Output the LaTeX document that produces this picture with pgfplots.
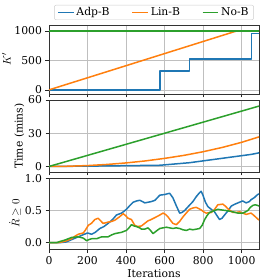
\documentclass[border=0pt]{standalone}
\usepackage{fontspec}
\setmainfont{DejaVu Serif}
\usepackage{pgfplots}
\pgfplotsset{compat=1.18}
\definecolor{tabblue}{HTML}{1F77B4}
\definecolor{taborange}{HTML}{FF7F0E}
\definecolor{tabgreen}{HTML}{2CA02C}
\pgfplotsset{
  panel/.style={
    scale only axis, width=210pt,
    xmin=0, xmax=1090,
    xtick={0,200,400,600,800,1000},
    xtick pos=left, ytick pos=left,
    tick align=outside,
    major tick length=3.5pt,
    every tick/.style={black!85, line width=0.7pt},
    axis line style={black!80, line width=0.9pt},
    grid=major,
    major grid style={black!25, line width=0.7pt},
    font=\fontsize{10.8}{13}\selectfont,
    /pgf/number format/assume math mode=true,
    /pgf/number format/1000 sep={},
    ylabel style={font=\fontsize{10.8}{13}\selectfont},
    ylabel shift=-3pt,
    every axis plot/.append style={line width=1.5pt, mark=none, line join=round},
  }
}
\begin{document}
\begin{tikzpicture}
\useasboundingbox (-49pt,0pt) rectangle (231pt,-280pt);
% Panel 1
\begin{axis}[panel, at={(0pt,-25pt)}, anchor=north west, height=69pt,
  ymin=-70, ymax=1100, ytick={0,500,1000}, xticklabels={},
  ylabel={$K'$},
  legend style={at={(0.5,1)}, anchor=south, yshift=5pt, legend columns=3,
    draw=black!20, rounded corners=2pt, font=\fontsize{10.8}{13}\selectfont,
    inner xsep=3pt, inner ysep=0.5pt,
    /tikz/every even column/.append style={column sep=20pt}},
  legend cell align=left,
  legend image post style={line width=1.5pt},
  legend image code/.code={\draw[#1] (0cm,0cm) -- (0.55cm,0cm);}]
\addplot[tabblue] coordinates {(0,0)(577,0)(577,320)(730,320)(730,520)(1050,520)(1050,960)(1090,960)};
\addlegendentry{Adp-B}
\addplot[taborange] coordinates {(0,0)(975,1000)(1090,1000)};
\addlegendentry{Lin-B}
\addplot[tabgreen] coordinates {(0,1000)(1090,1000)};
\addlegendentry{No-B}
\end{axis}
% Panel 2
\begin{axis}[panel, at={(0pt,-100pt)}, anchor=north west, height=72pt,
  ymin=-5, ymax=60, ytick={0,30,60}, xticklabels={},
  ylabel={Time (mins)}]
\addplot[tabblue] coordinates {(0,0)(200,0.3)(400,0.7)(577,1.1)(730,3.4)(1050,10.9)(1090,12.3)};
\addplot[taborange] coordinates {(0,0)(100,0.2)(200,0.8)(300,1.8)(400,3.2)(500,5.0)(600,7.3)(700,10.0)(800,13.3)(900,17.2)(1000,21.8)(1090,26.7)};
\addplot[tabgreen] coordinates {(0,0)(1090,54.5)};
\end{axis}
% Panel 3
\begin{axis}[panel, at={(0pt,-178.5pt)}, anchor=north west, height=70.5pt,
  ymin=-0.1, ymax=1.0, ytick={0,0.5,1},
  yticklabel style={/pgf/number format/.cd, fixed, fixed zerofill, precision=1},
  xlabel={Iterations}, ylabel={$\dot{R}\geq 0$},
  xlabel style={font=\fontsize{10.8}{13}\selectfont, yshift=2pt}]
\addplot[tabblue] coordinates {
(0,0)(60,0)(90,0.01)(120,0.05)(152,0.09)(175,0.12)(200,0.15)(221,0.13)(240,0.16)(264,0.22)(285,0.25)(307,0.30)(330,0.36)(350,0.43)(376,0.46)(390,0.49)(402,0.52)(420,0.58)(437,0.63)(455,0.65)(471,0.66)(485,0.64)(497,0.62)(515,0.63)(531,0.64)(550,0.66)(575,0.74)(600,0.75)(626,0.77)(643,0.70)(660,0.58)(678,0.46)(690,0.47)(704,0.50)(725,0.57)(747,0.64)(765,0.72)(782,0.78)(790,0.80)(799,0.74)(812,0.63)(825,0.56)(842,0.52)(859,0.48)(872,0.42)(885,0.36)(898,0.38)(911,0.43)(930,0.50)(946,0.57)(965,0.60)(989,0.63)(1005,0.65)(1023,0.62)(1040,0.64)(1049,0.67)(1065,0.70)(1083,0.75)(1090,0.76)};
\addplot[taborange] coordinates {
(0,0)(50,0)(83,0.02)(100,0.04)(117,0.06)(135,0.10)(152,0.13)(178,0.15)(190,0.20)(204,0.27)(220,0.30)(238,0.36)(255,0.38)(268,0.34)(281,0.30)(295,0.31)(307,0.32)(325,0.33)(342,0.35)(365,0.40)(385,0.45)(398,0.42)(410,0.38)(428,0.36)(445,0.27)(460,0.25)(480,0.26)(497,0.30)(514,0.34)(523,0.35)(550,0.39)(575,0.43)(592,0.46)(605,0.44)(618,0.40)(630,0.35)(643,0.30)(661,0.28)(678,0.33)(695,0.40)(712,0.46)(730,0.52)(747,0.54)(764,0.55)(790,0.51)(803,0.48)(816,0.46)(842,0.47)(860,0.52)(876,0.59)(902,0.60)(915,0.57)(928,0.53)(954,0.47)(970,0.47)(989,0.48)(1006,0.46)(1023,0.44)(1049,0.46)(1065,0.42)(1083,0.37)(1090,0.35)};
\addplot[tabgreen] coordinates {
(0,0)(40,0)(60,0.02)(83,0.04)(100,0.06)(117,0.08)(152,0.09)(165,0.08)(178,0.07)(195,0.03)(210,0.05)(221,0.06)(247,0.06)(273,0.09)(290,0.09)(307,0.09)(325,0.12)(342,0.14)(376,0.16)(402,0.19)(415,0.23)(428,0.28)(441,0.26)(454,0.25)(471,0.23)(480,0.21)(497,0.21)(514,0.23)(527,0.19)(540,0.14)(557,0.18)(575,0.22)(592,0.23)(609,0.24)(626,0.23)(643,0.22)(660,0.23)(678,0.22)(695,0.20)(713,0.19)(730,0.21)(747,0.20)(765,0.21)(782,0.22)(795,0.27)(808,0.36)(820,0.42)(833,0.47)(859,0.50)(876,0.52)(894,0.51)(920,0.50)(937,0.49)(954,0.48)(980,0.46)(1006,0.46)(1020,0.48)(1032,0.50)(1045,0.55)(1058,0.58)(1070,0.59)(1083,0.58)(1090,0.57)};
\end{axis}
\end{tikzpicture}
\end{document}
